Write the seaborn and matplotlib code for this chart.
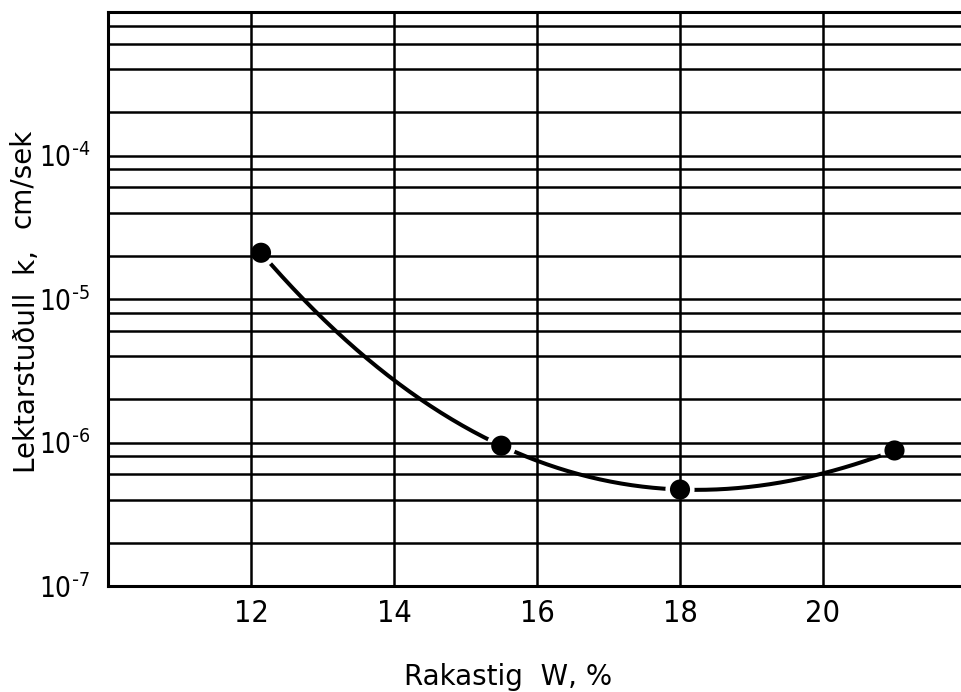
import numpy as np
import pandas as pd
import matplotlib
matplotlib.use("Agg")
import matplotlib.pyplot as plt
import seaborn as sns
from matplotlib.ticker import FixedLocator, NullFormatter

# Measured hydraulic conductivity against moisture content
moisture = [12.14, 15.5, 18.0, 21.0]
conductivity = [2.1e-5, 9.5e-7, 4.7e-7, 8.8e-7]

x_ticks = [12, 14, 16, 18, 20]
x_tick_labels = ["12", "14", "16", "18", "20"]
y_ticks = [1e-7, 1e-6, 1e-5, 1e-4]
y_tick_labels = [r"$10^{\text{-}7}$", r"$10^{\text{-}6}$",
                 r"$10^{\text{-}5}$", r"$10^{\text{-}4}$"]
y_grid_subs = [2, 4, 6, 8]

x_label = "Rakastig  W, %"
y_label = "Lektarstuðull  k,"
y_unit = "cm/sek"

sns.set_style("white")
plt.rcParams["font.family"] = ["DejaVu Sans"]
plt.rcParams["mathtext.default"] = "regular"

W, H = 962, 692
fig = plt.figure(figsize=(W / 100, H / 100), dpi=100)
ax = fig.add_axes([108 / W, 1 - 586 / H, 1 - 108 / W, (586 - 12) / H])
ax.set_yscale("log")

# smooth curve: cubic through the measured points in log space
coef = np.polyfit(moisture, np.log10(conductivity), 3)
w_fine = np.linspace(moisture[0], moisture[-1], 300)
curve = pd.DataFrame({"w": w_fine, "k": 10 ** np.polyval(coef, w_fine)})
points = pd.DataFrame({"w": moisture, "k": conductivity})

sns.lineplot(data=curve, x="w", y="k", ax=ax, color="black", linewidth=2.9,
             zorder=2)
# white halo opens a small gap in the curve around each point
sns.scatterplot(data=points, x="w", y="k", ax=ax, color="white", s=440,
                edgecolor="none", zorder=2.2)
sns.scatterplot(data=points, x="w", y="k", ax=ax, color="black", s=210,
                edgecolor="none", zorder=3)

ax.set_xlim(10, 10 + (W - 108) / 71.5)
ax.set_ylim(1e-7, 1e-3)

ax.set_xticks(x_ticks, x_tick_labels, fontsize=22, fontstretch="condensed")
ax.set_yticks(y_ticks, y_tick_labels, fontsize=20, fontstretch="condensed")
minor = [m * 10.0 ** e for e in range(-7, -3) for m in y_grid_subs]
ax.yaxis.set_minor_locator(FixedLocator(minor))
ax.yaxis.set_minor_formatter(NullFormatter())

ax.set_axisbelow(False)
ax.grid(which="major", axis="both", color="black", linewidth=1.8)
ax.grid(which="minor", axis="y", color="black", linewidth=1.8)

ax.tick_params(which="major", direction="out", length=6, width=2,
               color="black", labelcolor="black")
ax.tick_params(axis="x", which="major", pad=3)
ax.tick_params(axis="y", which="major", pad=7)
ax.tick_params(which="minor", length=0)

for side in ["left", "bottom", "top"]:
    ax.spines[side].set_color("black")
    ax.spines[side].set_linewidth(2.2)
ax.spines["right"].set_visible(False)

ax.set_xlabel(x_label, fontsize=20, color="black")
ax.xaxis.label.set_va("baseline")
ax.xaxis.set_label_coords(0.468, -0.1725)

ax.set_ylabel("")
fig.text(35 / W, 1 - 473 / H, y_label, rotation=90, rotation_mode="anchor",
         ha="left", va="baseline", fontsize=20, color="black")
fig.text(30 / W, 1 - 228 / H, y_unit, rotation=90, rotation_mode="anchor",
         ha="left", va="baseline", fontsize=20, color="black")

fig.savefig("out.png", dpi=100, facecolor="white")
